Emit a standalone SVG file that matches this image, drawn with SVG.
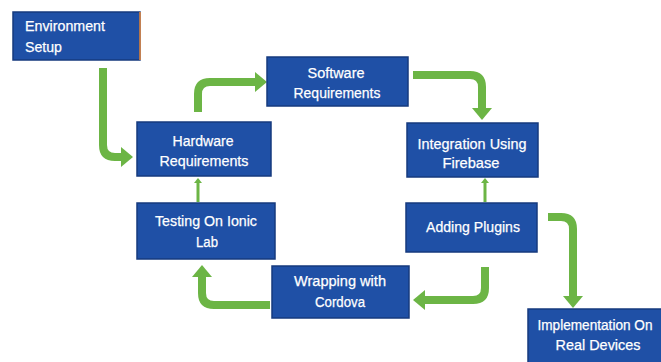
<svg xmlns="http://www.w3.org/2000/svg" width="661" height="362" viewBox="0 0 661 362">
  <style>
    .box { fill: #1f50a6; stroke: #163a7e; stroke-width: 1.5; }
    .t { fill: #ffffff; font-family: "Liberation Sans", Arial, sans-serif; font-size: 15.5px; text-anchor: middle; stroke: #ffffff; stroke-width: 0.25; }
    .tl { text-anchor: start; }
    .arr { fill: none; stroke: #6cb545; stroke-width: 8; }
    .thin { fill: none; stroke: #6cb545; stroke-width: 3; }
  </style>
  <defs>
    <marker id="head" markerUnits="userSpaceOnUse" markerWidth="13" markerHeight="20" refX="0" refY="10" orient="auto" viewBox="0 0 13 20">
      <path d="M0,0 L12,10 L0,20 z" fill="#6cb545"/>
    </marker>
    <marker id="small" markerUnits="userSpaceOnUse" markerWidth="6" markerHeight="8" refX="0" refY="4" orient="auto" viewBox="0 0 6 8">
      <path d="M0,0 L5,4 L0,8 z" fill="#6cb545"/>
    </marker>
  </defs>
  <rect width="661" height="362" fill="#ffffff"/>

  <g id="connectors">
    <path class="arr" d="M103,68 V145 Q103,157 115,157 H121" marker-end="url(#head)"/>
    <path class="arr" d="M198,112 V94 Q198,82 210,82 H255" marker-end="url(#head)"/>
    <path class="arr" d="M413,75 H470 Q482,75 482,87 V108" marker-end="url(#head)"/>
    <path class="thin" d="M485,202 V183" marker-end="url(#small)"/>
    <path class="thin" d="M198,202 V183" marker-end="url(#small)"/>
    <path class="arr" d="M270,305 H214 Q202,305 202,293 V277" marker-end="url(#head)"/>
    <path class="arr" d="M485,267 V288 Q485,300 473,300 H425" marker-end="url(#head)"/>
    <path class="arr" d="M548,217 H561 Q573,217 573,229 V296" marker-end="url(#head)"/>
  </g>

  <g id="environment-setup">
    <rect class="box" x="13" y="12" width="127" height="48"/>
    <line x1="140" y1="12" x2="140" y2="60" stroke="#e8893a" stroke-width="1.5"/>
    <text class="t tl" x="25" y="31" textLength="80" lengthAdjust="spacingAndGlyphs">Environment</text>
    <text class="t tl" x="25" y="52" textLength="37" lengthAdjust="spacingAndGlyphs">Setup</text>
  </g>

  <g id="hardware-requirements">
    <rect class="box" x="137" y="122" width="134" height="54"/>
    <text class="t" x="203" y="146" textLength="61" lengthAdjust="spacingAndGlyphs">Hardware</text>
    <text class="t" x="204" y="166" textLength="89" lengthAdjust="spacingAndGlyphs">Requirements</text>
  </g>

  <g id="software-requirements">
    <rect class="box" x="267" y="57" width="141" height="49"/>
    <text class="t" x="336" y="78" textLength="57" lengthAdjust="spacingAndGlyphs">Software</text>
    <text class="t" x="337" y="98" textLength="87" lengthAdjust="spacingAndGlyphs">Requirements</text>
  </g>

  <g id="integration-firebase">
    <rect class="box" x="407" y="123" width="131" height="54"/>
    <text class="t" x="472" y="149" textLength="109" lengthAdjust="spacingAndGlyphs">Integration Using</text>
    <text class="t" x="471" y="168" textLength="57" lengthAdjust="spacingAndGlyphs">Firebase</text>
  </g>

  <g id="testing-ionic-lab">
    <rect class="box" x="137" y="203" width="138" height="56"/>
    <text class="t" x="206" y="226" textLength="102" lengthAdjust="spacingAndGlyphs">Testing On Ionic</text>
    <text class="t" x="207" y="247" textLength="22" lengthAdjust="spacingAndGlyphs">Lab</text>
  </g>

  <g id="adding-plugins">
    <rect class="box" x="406" y="203" width="131" height="49"/>
    <text class="t" x="473" y="232" textLength="94" lengthAdjust="spacingAndGlyphs">Adding Plugins</text>
  </g>

  <g id="wrapping-cordova">
    <rect class="box" x="272" y="266" width="137" height="52"/>
    <text class="t" x="340" y="286" textLength="92" lengthAdjust="spacingAndGlyphs">Wrapping with</text>
    <text class="t" x="340" y="307" textLength="50" lengthAdjust="spacingAndGlyphs">Cordova</text>
  </g>

  <g id="implementation-devices">
    <rect class="box" x="528" y="309" width="134" height="54"/>
    <text class="t" x="595" y="330" font-size="14.5" style="font-size:14.5px" textLength="115" lengthAdjust="spacingAndGlyphs">Implementation On</text>
    <text class="t" x="598" y="350" textLength="85" lengthAdjust="spacingAndGlyphs">Real Devices</text>
  </g>
</svg>
